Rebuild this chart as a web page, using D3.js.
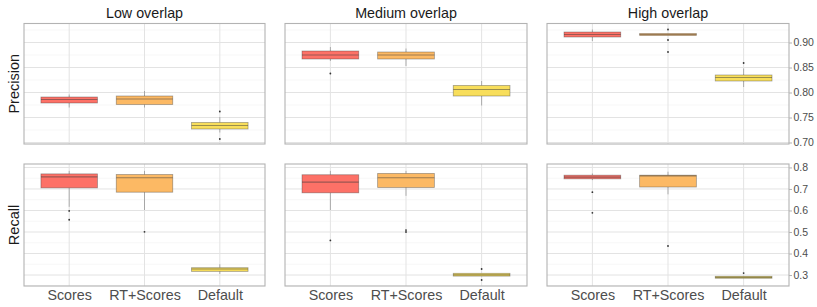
<!DOCTYPE html>
<html>
<head>
<meta charset="utf-8">
<script src="https://cdn.jsdelivr.net/npm/d3@7"></script>
<style>
  body { margin: 0; background: #fff; }
  text { font-family: "Liberation Sans", Arial, sans-serif; }
</style>
</head>
<body>
<div id="chart"></div>
<script>
// categories, facets and tick labels
var categories = ['Scores', 'RT+Scores', 'Default'];
var overlaps = ['Low overlap', 'Medium overlap', 'High overlap'];
var metrics = ['Precision', 'Recall'];
var precisionTicks = [0.70, 0.75, 0.80, 0.85, 0.90];
var recallTicks = [0.3, 0.4, 0.5, 0.6, 0.7, 0.8];

// box stats per category: [whisker low, q1, median, q3, whisker high]
var precisionLow = [[0.770, 0.779, 0.786, 0.791, 0.796], [0.770, 0.776, 0.787, 0.793, 0.803], [0.720, 0.727, 0.734, 0.740, 0.751]];
var precisionMedium = [[0.863, 0.867, 0.875, 0.883, 0.891], [0.853, 0.867, 0.875, 0.881, 0.888], [0.774, 0.793, 0.806, 0.814, 0.823]];
var precisionHigh = [[0.903, 0.911, 0.916, 0.921, 0.926], [0.914, 0.914, 0.916, 0.918, 0.918], [0.811, 0.823, 0.830, 0.835, 0.848]];
var recallLow = [[0.617, 0.705, 0.756, 0.770, 0.784], [0.602, 0.685, 0.752, 0.767, 0.784], [0.305, 0.317, 0.328, 0.334, 0.350]];
var recallMedium = [[0.602, 0.682, 0.732, 0.766, 0.784], [0.668, 0.707, 0.752, 0.772, 0.784], [0.295, 0.295, 0.301, 0.308, 0.308]];
var recallHigh = [[0.741, 0.747, 0.755, 0.764, 0.772], [0.675, 0.709, 0.761, 0.764, 0.780], [0.285, 0.285, 0.289, 0.294, 0.294]];

// outliers per category
var precisionLowOut = [[], [], [0.762, 0.707]];
var precisionMediumOut = [[0.838], [], []];
var precisionHighOut = [[], [0.926, 0.905, 0.881], [0.859]];
var recallLowOut = [[0.598, 0.557], [0.501], []];
var recallMediumOut = [[0.461], [0.509, 0.500], [0.328, 0.277]];
var recallHighOut = [[0.685, 0.589], [0.435], [0.309]];

var boxes = [[precisionLow, precisionMedium, precisionHigh], [recallLow, recallMedium, recallHigh]];
var outliers = [[precisionLowOut, precisionMediumOut, precisionHighOut], [recallLowOut, recallMediumOut, recallHighOut]];

var fills = ['#fd7167', '#fcb964', '#f8de5b'];

// layout
var svgWidth = 817;
var svgHeight = 307;
var colX = [[24, 265], [285, 527], [547, 789]];
var rowY = [[23.5, 144], [164, 286]];

var svg = d3.select('#chart')
  .append('svg')
  .attr('width', svgWidth)
  .attr('height', svgHeight);

// y scales, one per row (shared across facets)
var yScales = [
  d3.scaleLinear().domain([0.697, 0.938]).range([rowY[0][1], rowY[0][0]]),
  d3.scaleLinear().domain([0.249, 0.816]).range([rowY[1][1], rowY[1][0]])
];
var rowTicks = [precisionTicks, recallTicks];
var rowMinor = [
  [0.725, 0.775, 0.825, 0.875, 0.925],
  [0.25, 0.35, 0.45, 0.55, 0.65, 0.75]
];
var rowFormat = [d3.format('.2f'), d3.format('.1f')];

metrics.forEach(function(metric, r) {
  var y = yScales[r];

  overlaps.forEach(function(overlap, c) {
    var x = d3.scalePoint()
      .domain(categories)
      .range(colX[c])
      .padding(0.6);
    var bw = x.step() * 0.75;

    var g = svg.append('g');

    // minor grid
    g.selectAll('.minor')
      .data(rowMinor[r])
      .enter()
      .append('line')
      .attr('x1', colX[c][0]).attr('x2', colX[c][1])
      .attr('y1', d => y(d)).attr('y2', d => y(d))
      .attr('stroke', '#f2f2f2')
      .attr('stroke-width', 0.6);

    // major grid
    g.selectAll('.major')
      .data(rowTicks[r])
      .enter()
      .append('line')
      .attr('x1', colX[c][0]).attr('x2', colX[c][1])
      .attr('y1', d => y(d)).attr('y2', d => y(d))
      .attr('stroke', '#e3e3e3')
      .attr('stroke-width', 1);

    g.selectAll('.vgrid')
      .data(categories)
      .enter()
      .append('line')
      .attr('x1', d => x(d)).attr('x2', d => x(d))
      .attr('y1', rowY[r][0]).attr('y2', rowY[r][1])
      .attr('stroke', '#e3e3e3')
      .attr('stroke-width', 1);

    var stats = boxes[r][c];
    var outs = outliers[r][c];

    categories.forEach(function(cat, i) {
      var s = stats[i];
      var cx = x(cat);

      // whiskers
      g.append('line')
        .attr('x1', cx).attr('x2', cx)
        .attr('y1', y(s[0])).attr('y2', y(s[1]))
        .attr('stroke', 'rgba(60,60,60,0.45)')
        .attr('stroke-width', 0.8);
      g.append('line')
        .attr('x1', cx).attr('x2', cx)
        .attr('y1', y(s[3])).attr('y2', y(s[4]))
        .attr('stroke', 'rgba(60,60,60,0.45)')
        .attr('stroke-width', 0.8);

      // box
      g.append('rect')
        .attr('x', cx - bw / 2)
        .attr('y', y(s[3]))
        .attr('width', bw)
        .attr('height', Math.max(y(s[1]) - y(s[3]), 0.5))
        .attr('fill', fills[i])
        .attr('stroke', 'rgba(60,60,60,0.45)')
        .attr('stroke-width', 0.8);

      // median
      g.append('line')
        .attr('x1', cx - bw / 2).attr('x2', cx + bw / 2)
        .attr('y1', y(s[2])).attr('y2', y(s[2]))
        .attr('stroke', 'rgba(60,60,60,0.5)')
        .attr('stroke-width', 1.2);

      // outliers
      g.selectAll(null)
        .data(outs[i])
        .enter()
        .append('circle')
        .attr('cx', cx)
        .attr('cy', d => y(d))
        .attr('r', 0.9)
        .attr('fill', '#333');
    });

    // panel border
    g.append('rect')
      .attr('x', colX[c][0])
      .attr('y', rowY[r][0])
      .attr('width', colX[c][1] - colX[c][0])
      .attr('height', rowY[r][1] - rowY[r][0])
      .attr('fill', 'none')
      .attr('stroke', '#b3b3b3')
      .attr('stroke-width', 1.1);

    // facet titles on top row
    if (r === 0) {
      svg.append('text')
        .attr('x', (colX[c][0] + colX[c][1]) / 2)
        .attr('y', 18)
        .attr('text-anchor', 'middle')
        .attr('font-size', 14.3)
        .attr('fill', '#1a1a1a')
        .text(overlap);
    }

    // category labels on bottom row
    if (r === 1) {
      var xAxis = d3.axisBottom(x).tickSize(0).tickPadding(0);
      var ax = svg.append('g')
        .attr('transform', `translate(0, ${rowY[r][1]})`)
        .call(xAxis);
      ax.select('.domain').remove();
      ax.selectAll('text')
        .attr('y', 14)
        .attr('dy', 0)
        .attr('font-size', 14.3)
        .attr('font-family', '"Liberation Sans", Arial, sans-serif')
        .attr('fill', '#4d4d4d');
    }

    // right axis on last column
    if (c === 2) {
      var yAxis = d3.axisRight(y)
        .tickValues(rowTicks[r])
        .tickFormat(rowFormat[r])
        .tickSize(3)
        .tickPadding(1.5);
      var ay = svg.append('g')
        .attr('transform', `translate(${colX[c][1]}, 0)`)
        .call(yAxis);
      ay.select('.domain').remove();
      ay.selectAll('line').attr('stroke', '#b3b3b3');
      ay.selectAll('text')
        .attr('font-size', 10.5)
        .attr('font-family', '"Liberation Sans", Arial, sans-serif')
        .attr('fill', '#4d4d4d');
    }
  });

  // row titles
  var cy = (rowY[r][0] + rowY[r][1]) / 2;
  svg.append('text')
    .attr('transform', `translate(19, ${cy}) rotate(-90)`)
    .attr('text-anchor', 'middle')
    .attr('font-size', 14.5)
    .attr('fill', '#1a1a1a')
    .text(metric);
});
</script>
</body>
</html>
